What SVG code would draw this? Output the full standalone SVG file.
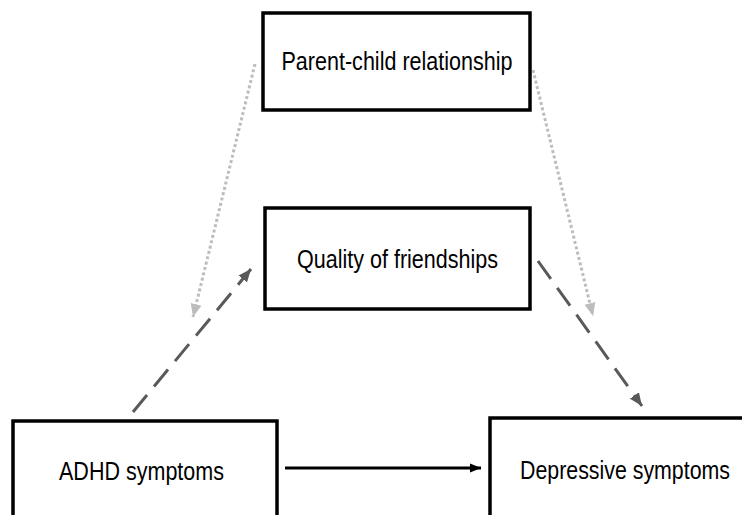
<svg xmlns="http://www.w3.org/2000/svg" width="742" height="515" viewBox="0 0 742 515">
<style>
.box{fill:#fff;stroke:#000;stroke-width:3.5}
.lbl{font-family:"Liberation Sans",Arial,sans-serif;font-size:25px;fill:#000;text-anchor:middle}
.solid{stroke:#000;stroke-width:3;fill:none}
.dash{stroke:#595959;stroke-width:3;fill:none;stroke-dasharray:22 11}
.dot{stroke:#bdbdbd;stroke-width:3;fill:none;stroke-dasharray:3 2.5}
</style>
<defs>
<marker id="aBlack" markerUnits="userSpaceOnUse" markerWidth="12" markerHeight="10" refX="11" refY="5" orient="auto"><path d="M0,0.5 L11,5 L0,9.5 Z" fill="#000"/></marker>
<marker id="aDark" markerUnits="userSpaceOnUse" markerWidth="14" markerHeight="12" refX="13" refY="6" orient="auto"><path d="M0,0.5 L13,6 L0,11.5 Z" fill="#595959"/></marker>
<marker id="aLight" markerUnits="userSpaceOnUse" markerWidth="14" markerHeight="12" refX="13" refY="6" orient="auto"><path d="M0,0.5 L13,6 L0,11.5 Z" fill="#bdbdbd"/></marker>
</defs>
<g id="connectors">
<line class="dot" x1="255" y1="64" x2="193" y2="317" marker-end="url(#aLight)"/>
<line class="dot" x1="533" y1="70" x2="593" y2="316" marker-end="url(#aLight)"/>
<line class="dash" x1="133" y1="412" x2="251" y2="269" marker-end="url(#aDark)"/>
<line class="dash" x1="538" y1="261" x2="642" y2="406" marker-end="url(#aDark)"/>
<line class="solid" x1="285" y1="468" x2="481" y2="468" marker-end="url(#aBlack)"/>
</g>
<g id="parent-child">
<rect class="box" x="263" y="13" width="267" height="97"/>
<text class="lbl" x="397" y="70" textLength="231" lengthAdjust="spacingAndGlyphs">Parent-child relationship</text>
</g>
<g id="friendships">
<rect class="box" x="265" y="208" width="265" height="101"/>
<text class="lbl" x="397.5" y="268" textLength="201" lengthAdjust="spacingAndGlyphs">Quality of friendships</text>
</g>
<g id="adhd">
<rect class="box" x="13" y="421" width="264" height="120"/>
<text class="lbl" x="141.5" y="480" textLength="165" lengthAdjust="spacingAndGlyphs">ADHD symptoms</text>
</g>
<g id="depressive">
<rect class="box" x="490" y="418" width="270" height="120"/>
<text class="lbl" x="625" y="479" textLength="210" lengthAdjust="spacingAndGlyphs">Depressive symptoms</text>
</g>
</svg>
